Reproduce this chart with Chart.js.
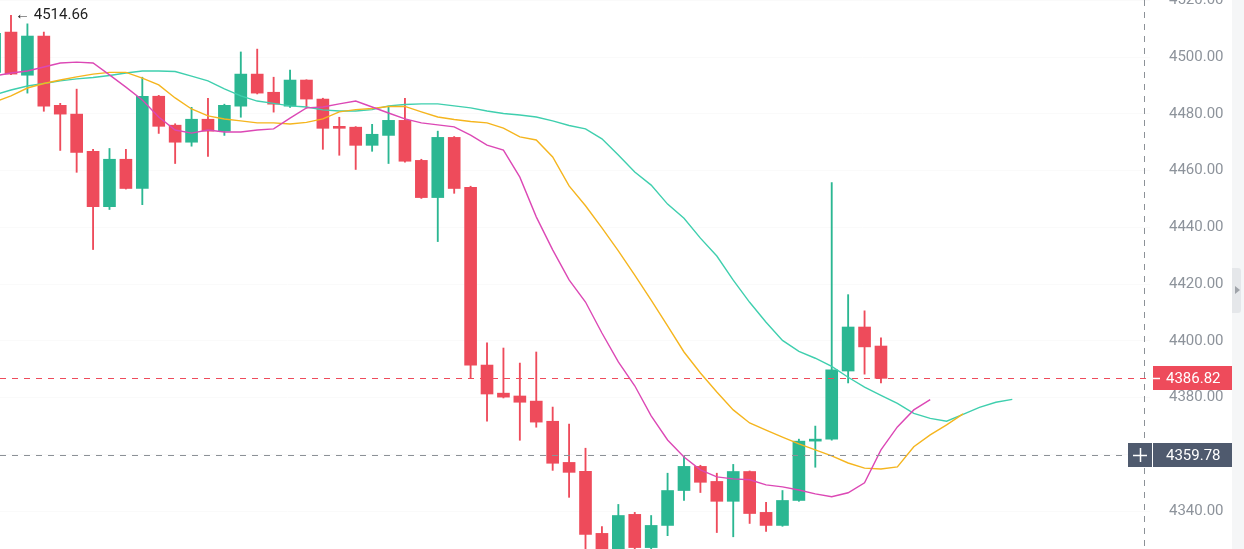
<!DOCTYPE html>
<html>
<head>
<meta charset="utf-8">
<script src="https://cdn.jsdelivr.net/npm/chart.js@4.4.1/dist/chart.umd.min.js"></script>
<style>
  html, body { margin: 0; padding: 0; background: #fff; }
  #wrap { display: flex; width: 1244px; height: 549px; overflow: hidden; }
  #box { position: relative; width: 1232px; height: 549px; }
  #side { position: relative; width: 12px; height: 549px; background: #f5f6f7; }
  #handle { position: absolute; left: 0; top: 268px; width: 9px; height: 45px; background: #e5e7ea; border-radius: 0 3px 3px 0; }
  #handle:after { content: ''; position: absolute; left: 3px; top: 18px; border-left: 5px solid #9fa3a9; border-top: 4px solid transparent; border-bottom: 4px solid transparent; }
</style>
</head>
<body>
<div id="wrap">
  <div id="box"><canvas id="chart"></canvas></div>
  <div id="side"><div id="handle"></div></div>
</div>
<script>
// candles, first entry is the half-hidden one at the left edge (index -1)
const firstIdx = -1;
const opens = [4494.6, 4508.8, 4493.6, 4507.4, 4483.0, 4479.9, 4466.8, 4447.3, 4464.0, 4453.7,
  4486.2, 4476.0, 4470.0, 4478.1, 4473.9, 4482.7, 4494.0, 4487.6, 4482.7, 4491.9,
  4485.2, 4475.6, 4475.3, 4468.9, 4472.4, 4477.7, 4463.6, 4450.5, 4471.7, 4454.1,
  4391.5, 4381.6, 4380.6, 4378.8, 4371.7, 4357.2, 4354.1, 4332.2, 4320.0, 4338.9,
  4327.2, 4335.0, 4347.3, 4355.8, 4350.5, 4343.5, 4354.0, 4339.6, 4335.0, 4343.8,
  4364.7, 4365.4, 4389.4, 4404.9, 4398.2];
const highs = [4509.5, 4514.66, 4511.7, 4508.8, 4483.7, 4488.7, 4467.5, 4467.8, 4467.5, 4492.9,
  4486.5, 4476.5, 4482.3, 4485.5, 4483.4, 4501.8, 4502.8, 4492.9, 4495.4, 4492.0,
  4485.5, 4478.8, 4475.5, 4476.3, 4482.3, 4485.5, 4464.0, 4473.9, 4472.0, 4454.5,
  4399.3, 4397.5, 4392.2, 4396.1, 4376.7, 4370.7, 4362.2, 4334.6, 4342.4, 4339.6,
  4338.5, 4353.4, 4359.4, 4356.2, 4353.4, 4356.5, 4354.2, 4343.1, 4347.3, 4365.4,
  4370.0, 4455.8, 4416.3, 4410.6, 4401.1];
const lows = [4493.0, 4493.8, 4487.3, 4480.9, 4467.1, 4459.4, 4432.2, 4446.3, 4453.5, 4448.0,
  4473.1, 4462.5, 4468.6, 4465.0, 4472.4, 4478.8, 4487.0, 4480.6, 4482.3, 4482.0,
  4467.5, 4465.4, 4460.4, 4466.8, 4462.5, 4463.0, 4450.2, 4435.0, 4452.0, 4386.9,
  4371.7, 4379.9, 4365.0, 4369.6, 4354.4, 4344.9, 4322.0, 4318.0, 4316.0, 4322.0,
  4325.0, 4331.4, 4343.8, 4346.6, 4332.5, 4331.0, 4335.7, 4332.9, 4334.7, 4343.5,
  4355.5, 4365.0, 4385.2, 4388.3, 4385.2];
const closes = [4508.4, 4494.0, 4507.4, 4482.7, 4479.9, 4466.4, 4447.3, 4464.0, 4453.7, 4486.2,
  4475.6, 4470.0, 4478.1, 4473.9, 4483.0, 4494.0, 4487.3, 4483.4, 4491.9, 4485.2,
  4474.9, 4474.9, 4468.9, 4472.8, 4477.7, 4463.3, 4450.5, 4471.7, 4453.7, 4391.5,
  4381.3, 4380.2, 4378.4, 4371.4, 4356.9, 4353.7, 4331.8, 4322.0, 4338.5, 4327.2,
  4335.0, 4347.3, 4355.8, 4350.2, 4343.5, 4354.0, 4339.2, 4335.0, 4343.8, 4364.7,
  4365.4, 4389.8, 4404.9, 4397.9, 4386.82];

// alligator lines (jaw teal, teeth yellow, lips magenta), also from index -1
const lips = [4493.3, 4494.4, 4495.1, 4496.5, 4497.9, 4498.2, 4497.9, 4493.7, 4489.4, 4484.9,
  4478.9, 4474.3, 4473.2, 4474.3, 4473.6, 4473.6, 4474.3, 4474.7, 4478.5, 4482.1,
  4482.4, 4483.5, 4484.5, 4482.4, 4480.3, 4478.2, 4476.8, 4476.1, 4475.4, 4472.5,
  4469.0, 4467.2, 4457.7, 4443.7, 4432.1, 4421.5, 4413.7, 4402.8, 4392.6, 4384.2,
  4373.6, 4365.1, 4359.1, 4354.6, 4352.1, 4351.4, 4351.1, 4349.3, 4348.6, 4347.5,
  4346.1, 4345.1, 4346.5, 4350.0, 4361.6, 4369.7, 4375.7, 4379.3];
const teeth = [4484.2, 4486.3, 4489.1, 4490.7, 4491.9, 4493.0, 4494.0, 4494.6, 4494.6, 4492.6,
  4490.2, 4485.6, 4481.7, 4479.3, 4478.2, 4477.5, 4476.8, 4476.8, 4476.4, 4477.0,
  4478.2, 4480.7, 4481.5, 4481.9, 4482.6, 4482.6, 4480.7, 4478.9, 4478.0, 4477.3,
  4476.8, 4475.0, 4471.9, 4470.8, 4464.8, 4454.6, 4447.6, 4439.8, 4431.7, 4423.2,
  4414.4, 4405.3, 4396.1, 4388.7, 4382.0, 4375.7, 4371.1, 4368.6, 4366.1, 4363.7,
  4361.6, 4359.5, 4357.0, 4355.2, 4354.9, 4355.6, 4362.7, 4366.9, 4370.4, 4374.3];
const jaw = [4486.7, 4488.4, 4489.8, 4490.7, 4491.6, 4492.3, 4492.8, 4493.5, 4494.4, 4495.1,
  4495.1, 4494.9, 4493.3, 4491.6, 4488.8, 4486.3, 4484.5, 4483.7, 4482.8, 4482.4,
  4481.4, 4481.0, 4481.0, 4481.5, 4482.8, 4483.3, 4483.5, 4483.5, 4482.8, 4482.1,
  4481.0, 4480.1, 4479.6, 4478.9, 4477.5, 4475.9, 4474.7, 4471.2, 4465.5, 4459.5,
  4454.9, 4448.2, 4443.2, 4436.2, 4429.9, 4421.4, 4413.6, 4406.6, 4400.2, 4396.3,
  4393.9, 4391.0, 4387.2, 4383.7, 4380.8, 4378.0, 4374.5, 4372.7, 4371.7, 4374.1,
  4376.6, 4378.4, 4379.4];

const yTicks = [4340, 4360, 4380, 4400, 4420, 4440, 4460, 4480, 4500, 4520];
const lastPrice = 4386.82;
const crossPrice = 4359.78;
const crossIdx = 69;
const highPrice = 4514.66;

const UP = '#2bb792';
const DOWN = '#ee4b5b';
const SLATE = '#4f5a6e';

const xy = (arr) => arr.map((v, k) => ({ x: firstIdx + k, y: v }));
const candleColors = opens.map((o, k) => closes[k] >= o ? UP : DOWN);
const bodies = opens.map((o, k) => ({ x: firstIdx + k, y: [o, closes[k]] }));
const wicks = lows.map((l, k) => ({ x: firstIdx + k, y: [l, highs[k]] }));

const overlay = {
  id: 'overlay',
  afterDatasetsDraw(chart) {
    const { ctx, chartArea, scales: { x, y } } = chart;
    ctx.save();
    ctx.lineWidth = 1;
    ctx.setLineDash([6, 6]);
    // current price line
    const py = Math.round(y.getPixelForValue(lastPrice)) + 0.5;
    ctx.strokeStyle = DOWN;
    ctx.beginPath(); ctx.moveTo(0, py); ctx.lineTo(chartArea.right, py); ctx.stroke();
    // crosshair
    const cy = Math.round(y.getPixelForValue(crossPrice)) + 0.5;
    const cx = Math.round(x.getPixelForValue(crossIdx)) + 0.5;
    ctx.strokeStyle = '#8c9197';
    ctx.beginPath(); ctx.moveTo(0, cy); ctx.lineTo(chartArea.right - 22, cy); ctx.stroke();
    ctx.beginPath(); ctx.moveTo(cx, 0); ctx.lineTo(cx, chart.height); ctx.stroke();
    ctx.restore();
  },
  afterDraw(chart) {
    const { ctx, chartArea, scales: { x, y } } = chart;
    const L = chartArea.right + 3;
    ctx.save();
    ctx.font = '15px Roboto';
    ctx.textBaseline = 'middle';
    ctx.textAlign = 'left';
    // price label
    const py = y.getPixelForValue(lastPrice);
    ctx.fillStyle = DOWN;
    ctx.fillRect(L, Math.round(py) - 12, 80, 24);
    ctx.strokeStyle = '#fff';
    ctx.lineWidth = 1.5;
    ctx.beginPath(); ctx.moveTo(L, Math.round(py) + 0.5); ctx.lineTo(L + 7, Math.round(py) + 0.5); ctx.stroke();
    ctx.fillStyle = '#fff';
    ctx.fillText(lastPrice.toFixed(2), L + 13, py + 1);
    // crosshair label
    const cy = Math.round(y.getPixelForValue(crossPrice));
    ctx.fillStyle = SLATE;
    ctx.fillRect(L - 25, cy - 12, 24, 24);
    ctx.fillRect(L, cy - 12, 80, 24);
    ctx.strokeStyle = '#fff';
    ctx.lineWidth = 1.5;
    const px = L - 13;
    ctx.beginPath();
    ctx.moveTo(px - 7, cy + 0.5); ctx.lineTo(px + 7, cy + 0.5);
    ctx.moveTo(px + 0.5, cy - 7); ctx.lineTo(px + 0.5, cy + 7);
    ctx.stroke();
    ctx.fillStyle = '#fff';
    ctx.fillText(crossPrice.toFixed(2), L + 13, cy + 1);
    // highest price marker
    ctx.fillStyle = '#1f1f1f';
    ctx.fillText('\u2190 ' + highPrice.toFixed(2), x.getPixelForValue(0) + 4, y.getPixelForValue(highPrice));
    ctx.restore();
  }
};

Chart.defaults.font.family = 'Roboto';

new Chart(document.getElementById('chart'), {
  type: 'bar',
  data: {
    datasets: [
      { type: 'line', data: xy(lips), borderColor: '#dc48b5', borderWidth: 1.4, pointRadius: 0, order: 0 },
      { type: 'line', data: xy(teeth), borderColor: '#f5b51e', borderWidth: 1.4, pointRadius: 0, order: 0 },
      { type: 'line', data: xy(jaw), borderColor: '#3fcfae', borderWidth: 1.4, pointRadius: 0, order: 0 },
      { data: bodies, backgroundColor: candleColors, barThickness: 12, minBarLength: 2, grouped: false, order: 1 },
      { data: wicks, backgroundColor: candleColors, barThickness: 1.2, grouped: false, order: 2 }
    ]
  },
  options: {
    responsive: true,
    maintainAspectRatio: false,
    animation: false,
    plugins: { legend: { display: false }, tooltip: { enabled: false } },
    layout: { padding: 0 },
    scales: {
      x: { type: 'linear', display: false, min: -0.67, max: 69.39, offset: false },
      y: {
        position: 'right',
        min: 4326.7,
        max: 4520.1,
        afterFit(s) { s.width = 82; s.paddingTop = 0; s.paddingBottom = 0; },
        afterBuildTicks(s) { s.ticks = yTicks.map(v => ({ value: v })); },
        grid: { color: '#fafafa', drawTicks: false },
        border: { display: false },
        ticks: { padding: 19, color: '#8d939b', font: { size: 15 }, callback: v => v.toFixed(2) }
      }
    }
  },
  plugins: [overlay]
});
</script>
</body>
</html>
